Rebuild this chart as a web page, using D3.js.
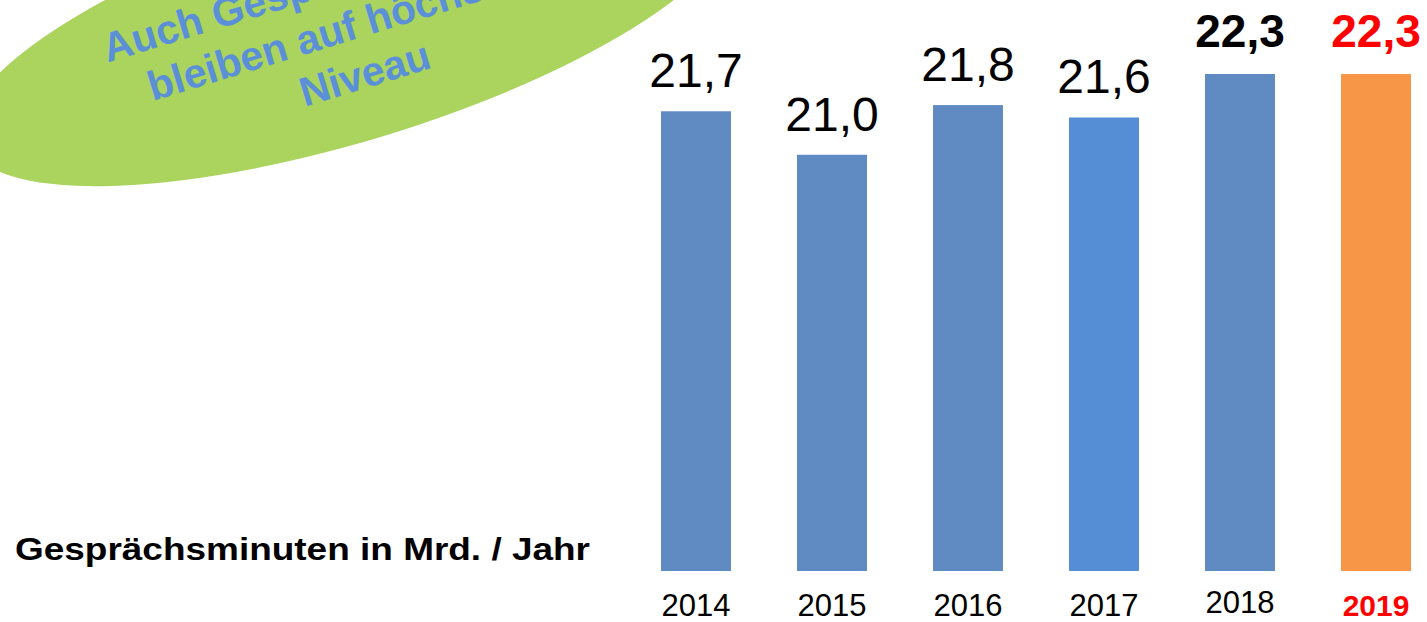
<!DOCTYPE html>
<html>
<head>
<meta charset="utf-8">
<script src="https://cdn.jsdelivr.net/npm/d3@7"></script>
<style>
  html, body { margin: 0; padding: 0; background: #ffffff; overflow: hidden; }
  svg { display: block; }
  text { font-family: "Liberation Sans", Arial, Helvetica, sans-serif; }
</style>
</head>
<body>
<svg id="chart" width="1427" height="622"></svg>
<script>
// ---- data ----
const years = ["2014", "2015", "2016", "2017", "2018", "2019"];
const minutes = [21.7, 21.0, 21.8, 21.6, 22.3, 22.3];
const title = "Gesprächsminuten in Mrd. / Jahr";
const bubbleLines = ["Auch Gesprächsminuten", "bleiben auf höchstem", "Niveau"];
const currentYear = "2019";
const previousYear = "2018";
const accentYear = "2017";

// ---- layout ----
const baseY = 571;
const svg = d3.select("#chart");

const de = d3.formatLocale({ decimal: ",", thousands: ".", grouping: [3], currency: ["", " €"] });
const fmt = de.format(".1f");

const x = d3.scaleBand()
  .domain(years)
  .range([661, 1411])
  .paddingInner(66 / 136)
  .paddingOuter(0);

const y = d3.scaleLinear()
  .domain([14.3, 22.3])
  .range([baseY, 74]);

// ---- green bubble ----
const bubble = svg.append("g").attr("transform", "translate(350,25) rotate(-17)");
bubble.append("ellipse")
  .attr("cx", 0).attr("cy", 0)
  .attr("rx", 400).attr("ry", 116)
  .attr("fill", "#aad45e");
bubble.selectAll("text.bub")
  .data(bubbleLines)
  .join("text")
  .attr("class", "bub")
  .attr("x", 0)
  .attr("y", (d, i) => -35 + i * 50)
  .attr("text-anchor", "middle")
  .attr("font-size", 41)
  .attr("font-weight", "bold")
  .attr("fill", "#5b8fd8")
  .text(d => d);

// ---- bars ----
const data = years.map((yr, i) => ({ year: yr, value: minutes[i] }));
const barColor = d => d.year === currentYear ? "#f79646" : (d.year === accentYear ? "#558ed5" : "#5f8bc2");

svg.append("g").selectAll("rect")
  .data(data)
  .join("rect")
  .attr("x", d => x(d.year))
  .attr("y", d => y(d.value))
  .attr("width", x.bandwidth())
  .attr("height", d => baseY - y(d.value))
  .attr("fill", barColor);

// ---- value labels ----
const isBold = d => d.year === currentYear || d.year === previousYear;
const labelY = d => isBold(d) ? y(d.value) - 27 : y(d.value) - 24;
svg.append("g").selectAll("text")
  .data(data)
  .join("text")
  .attr("x", d => x(d.year) + x.bandwidth() / 2)
  .attr("y", labelY)
  .attr("text-anchor", "middle")
  .attr("font-size", d => isBold(d) ? 46 : 48)
  .attr("font-weight", d => isBold(d) ? "bold" : "normal")
  .attr("fill", d => d.year === currentYear ? "#ff0000" : "#000000")
  .text(d => fmt(d.value));

// ---- x axis ----
const xAxis = svg.append("g")
  .attr("transform", `translate(0,${baseY})`)
  .call(d3.axisBottom(x).tickSize(0).tickPadding(0));
xAxis.select(".domain").remove();
xAxis.selectAll(".tick text")
  .attr("y", d => d === previousYear ? 42 : 45)
  .attr("dy", 0)
  .attr("font-family", "\"Liberation Sans\", Arial, sans-serif")
  .attr("font-size", d => d === currentYear ? 30 : 31)
  .attr("font-weight", d => d === currentYear ? "bold" : "normal")
  .attr("fill", d => d === currentYear ? "#ff0000" : "#000000");

// ---- title ----
svg.append("text")
  .attr("x", 15)
  .attr("y", 560)
  .attr("font-size", 32)
  .attr("font-weight", "bold")
  .attr("fill", "#000000")
  .attr("textLength", 575)
  .attr("lengthAdjust", "spacingAndGlyphs")
  .text(title);
</script>
</body>
</html>
